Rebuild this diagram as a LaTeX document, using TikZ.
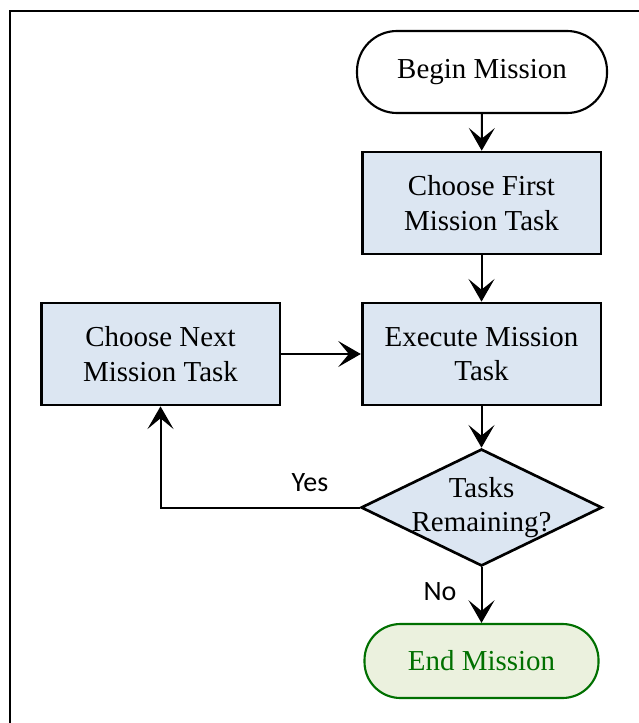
\documentclass[tikz,border=0pt]{standalone}
\usepackage{fontspec}
\setmainfont{Liberation Serif}
\newfontfamily\labelfont{Carlito}
\usetikzlibrary{arrows.meta,shapes.geometric}

\definecolor{boxblue}{HTML}{DCE6F2}
\definecolor{endfill}{HTML}{EBF1DE}
\definecolor{endgreen}{HTML}{007000}

\tikzstyle{process}=[draw, line width=2pt, fill=boxblue, align=center, minimum width=179pt, minimum height=76.5pt]
\tikzstyle{terminal}=[draw, line width=1.6pt, rounded corners=30pt, align=center, minimum width=187.5pt, minimum height=61.5pt]
\tikzstyle{decision}=[draw, diamond, line width=2pt, fill=boxblue, inner sep=0pt, minimum width=180.75pt, minimum height=87.75pt]
\tikzstyle{answer}=[font=\labelfont\fontsize{21pt}{25pt}\selectfont]
\tikzstyle{arrow}=[line width=1.5pt, -{Stealth[length=17pt, width=19.5pt, inset=8pt]}]

\begin{document}
\begin{tikzpicture}[x=0.75pt, y=-0.75pt, font=\fontsize{21.7pt}{26pt}\selectfont]
      \useasboundingbox (0,0) rectangle (638,723);
      \draw[line width=1.6pt] (10,740) -- (10,11) -- (660,11);

      \node[terminal] (begin) at (482,72) {Begin Mission};
      \node[process] (first) at (481.5,203) {Choose First\\Mission Task};
      \node[process] (exec) at (481.5,354) {Execute Mission\\Task};
      \node[process] (next) at (160.5,354) {Choose Next\\Mission Task};
      \node[decision, label={[align=center]center:Tasks\\Remaining?}] (check) at (481.5,507.5) {};
      \node[terminal, draw=endgreen, fill=endfill, text=endgreen, rounded corners=27pt,
            minimum width=175.5pt, minimum height=55.5pt] (end) at (481.5,661) {End Mission};

      \node[answer] (yes) at (310,483) {Yes};
      \node[answer] (no) at (440,592) {No};

      \draw[arrow] (begin) to (first);
      \draw[arrow] (first) to (exec);
      \draw[arrow] (exec) to (check);
      \draw[arrow] (next) to (exec);
      \draw[arrow] (check) -| (next);
      \draw[arrow] (check) to (end);
    \end{tikzpicture}
\end{document}
